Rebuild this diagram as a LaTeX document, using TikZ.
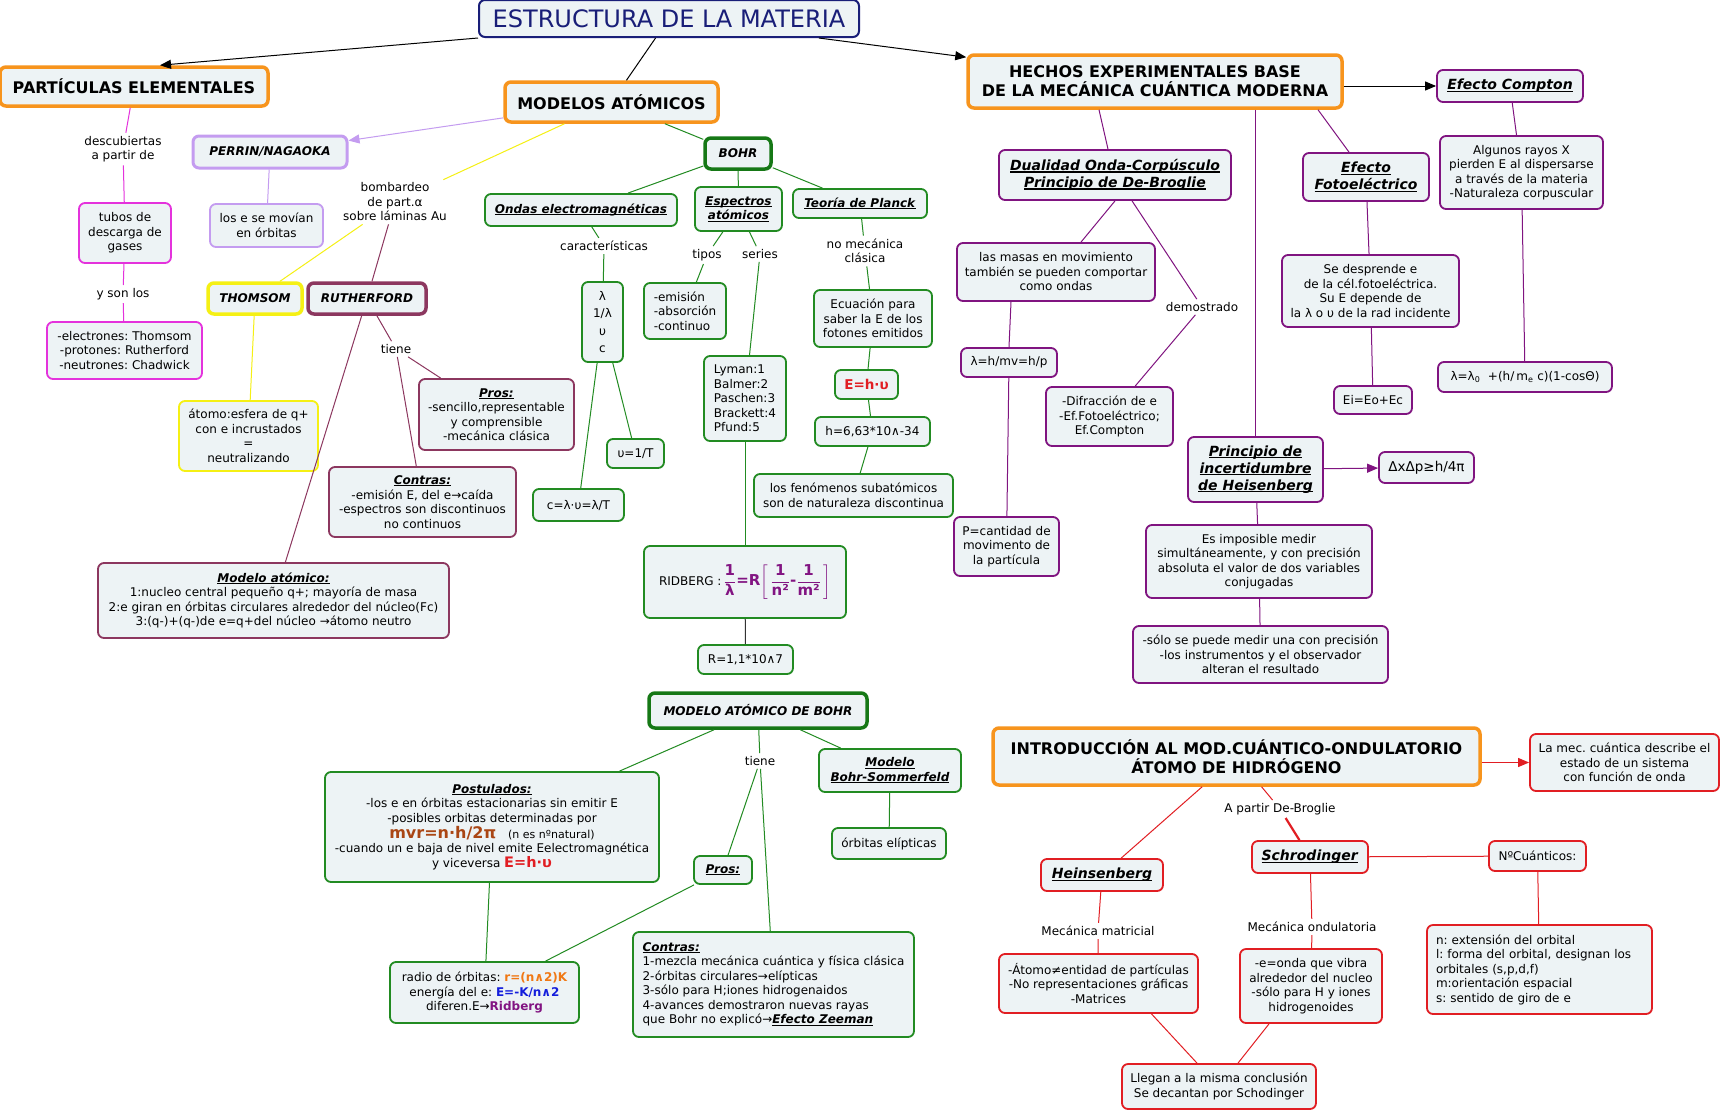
\documentclass[tikz,border=0pt]{standalone}
\usepackage{fontspec}
\usepackage{amsmath}
\setmainfont{DejaVu Sans}[ItalicFont={DejaVu Sans Oblique},BoldFont={DejaVu Sans Bold},BoldItalicFont={DejaVu Sans Bold Oblique}]
\usetikzlibrary{arrows.meta}
\definecolor{boxfill}{RGB}{237,243,245}
\definecolor{org}{RGB}{247,148,29}
\definecolor{grn}{RGB}{34,139,34}
\definecolor{dgrn}{RGB}{22,120,22}
\definecolor{pur}{RGB}{128,20,128}
\definecolor{redc}{RGB}{225,30,35}
\definecolor{mag}{RGB}{228,50,220}
\definecolor{lav}{RGB}{196,156,240}
\definecolor{yel}{RGB}{245,240,20}
\definecolor{mar}{RGB}{140,55,95}
\definecolor{navy}{RGB}{25,30,120}
\definecolor{rpur}{RGB}{130,20,130}
\definecolor{brn}{RGB}{170,70,20}
\definecolor{orgt}{RGB}{240,120,20}
\definecolor{blu}{RGB}{20,30,220}
\newcommand\fsa{\fontsize{12}{14.5}\selectfont\frenchspacing}
\newcommand\fsi{\fontsize{12}{14.5}\selectfont\bfseries\itshape}
\newcommand\fsh{\fontsize{14}{17}\selectfont}
\newcommand\fsb{\fontsize{16}{19}\selectfont\bfseries}
\newcommand\hd[1]{\setbox0\hbox{\textbf{\textit{#1}}}\rlap{\copy0}\rule[-0.14em]{\wd0}{0.08em}}
\tikzset{
  bx/.style={draw=#1, rounded corners=6pt, fill=boxfill, line width=1.8pt, align=center, inner sep=2pt, font=\fsa, text=black},
  thk/.style={line width=3.5pt},
  sz/.style 2 args={minimum width=#1pt, minimum height=#2pt},
  lb/.style={font=\fsa, align=center, inner sep=3pt, text=black},
  arr/.style={-{Triangle[length=11pt,width=9pt]}},
}
\begin{document}
\frenchspacing
\begin{tikzpicture}[x=1pt,y=-1pt]
\useasboundingbox (0,0) rectangle (1722,1112);
\fill[white] (0,0) rectangle (1722,1112);

% ---------- main headers
\node[bx=navy, line width=2pt, text=navy, font=\fontsize{24}{28}\selectfont, sz={380}{37}] (title) at (669,18.5) {ESTRUCTURA DE LA MATERIA};
\node[bx=org, thk, font=\fsb, sz={268}{39}] (partic) at (134,86.5) {PARTÍCULAS ELEMENTALES};
\node[bx=org, thk, font=\fsb, sz={213}{40}] (modelos) at (611.5,102) {MODELOS ATÓMICOS};
\node[bx=org, thk, font=\fsb, sz={374}{53}] (hechos) at (1155,81.5) {HECHOS EXPERIMENTALES BASE\\DE LA MECÁNICA CUÁNTICA MODERNA};
\node[bx=org, thk, font=\fsb, sz={487}{57}] (intro) at (1236.5,756.5) {INTRODUCCIÓN AL MOD.CUÁNTICO-ONDULATORIO\\ÁTOMO DE HIDRÓGENO};

% ---------- particulas
\node[lb] (descub) at (123,149) {descubiertas\\a partir de};
\node[bx=mag, sz={92}{60}] (tubos) at (125,233) {tubos de\\descarga de\\gases};
\node[lb] (ysonlos) at (123,294) {y son los};
\node[bx=mag, sz={155}{57}] (elec) at (124.5,350.5) {-electrones: Thomsom\\-protones: Rutherford\\-neutrones: Chadwick};

% ---------- modelos: perrin, thomsom, rutherford
\node[bx=lav, line width=3pt, font=\fsi, sz={154}{32}] (perrin) at (270,152) {PERRIN/NAGAOKA};
\node[bx=lav, sz={113}{43}] (lose) at (266.5,225.5) {los e se movían\\en órbitas};
\node[lb] (bomb) at (395,202) {bombardeo\\de part.α\\sobre láminas Au};
\node[bx=yel, thk, font=\fsi, sz={94}{31}] (thomsom) at (255,298.5) {THOMSOM};
\node[bx=mar, thk, font=\fsi, sz={118}{31}] (ruther) at (367,298.5) {RUTHERFORD};
\node[bx=yel, sz={139}{70}] (atomo) at (248.5,436) {átomo:esfera de q+\\con e incrustados\\=\\neutralizando};
\node[lb] (tiene1) at (396,349) {tiene};
\node[bx=mar, sz={155}{71}] (pros1) at (496.5,414.5) {\hd{Pros:}\\-sencillo,representable\\y comprensible\\-mecánica clásica};
\node[bx=mar, sz={187}{70}] (contras1) at (422.5,502) {\hd{Contras:}\\-emisión E, del e→caída\\-espectros son discontinuos\\no continuos};
\node[bx=mar, sz={351}{75}] (modelo1) at (273.5,600.5) {\hd{Modelo atómico:}\\1:nucleo central pequeño q+; mayoría de masa\\2:e giran en órbitas circulares alrededor del núcleo(Fc)\\3:(q-)+(q-)de e=q+del núcleo →átomo neutro};

% ---------- bohr
\node[bx=dgrn, thk, font=\fsi, sz={66}{31}] (bohr) at (738,153.5) {BOHR};
\node[bx=grn, sz={192}{32}] (ondas) at (581,210) {\hd{Ondas electromagnéticas}};
\node[bx=grn, sz={87}{44}] (espectros) at (738.5,209) {\hd{Espectros}\\\hd{atómicos}};
\node[bx=grn, sz={134}{29}] (planck) at (860,203.5) {\hd{Teoría de Planck}};
\node[lb] (caract) at (604,246) {características};
\node[bx=grn, sz={41}{80}, font=\fontsize{12}{17.5}\selectfont] (lam) at (602.5,322) {λ\\1/λ\\υ\\c};
\node[lb] (tipos) at (707,255) {tipos};
\node[lb] (series) at (760,254) {series};
\node[bx=grn, sz={82}{56}, align=left] (emision) at (685,311) {-emisión\\-absorción\\-continuo};
\node[bx=grn, sz={82}{85}, align=left] (lyman) at (745,398.5) {Lyman:1\\Balmer:2\\Paschen:3\\Brackett:4\\Pfund:5};
\node[lb] (nomec) at (865,251) {no mecánica\\clásica};
\node[bx=grn, sz={118}{57}] (ecuacion) at (873,318.5) {Ecuación para\\saber la E de los\\fotones emitidos};
\node[bx=grn, sz={63}{29}, text=redc, font=\fontsize{13.5}{15}\selectfont\bfseries] (ehv) at (866.5,384.5) {E=h·υ};
\node[bx=grn, sz={115}{29}] (hval) at (872.5,431.5) {h=6,63*10∧-34};
\node[bx=grn, sz={199}{43}] (fenom) at (853.5,495.5) {los fenómenos subatómicos\\son de naturaleza discontinua};
\node[bx=grn, sz={91}{32}] (ceq) at (578.5,505) {c=λ·υ=λ/T};
\node[bx=grn, sz={57}{29}] (ueq) at (635.5,453.5) {υ=1/T};
\node[bx=grn, sz={202}{72}] (ridberg) at (745,582) {RIDBERG :\,{\color{rpur}\fontsize{15}{18}\selectfont\bfseries$\dfrac{\text{1}}{\text{λ}}$=R$\left[\,\dfrac{\text{1}}{\text{n²}}\text{-}\dfrac{\text{1}}{\text{m²}}\,\right]$}};
\node[bx=grn, sz={95}{29}] (rval) at (745.5,659.5) {R=1,1*10∧7};

% ---------- modelo atomico de bohr
\node[bx=dgrn, thk, font=\fsi, sz={218}{35}] (mbohr) at (758,710.5) {MODELO ATÓMICO DE BOHR};
\node[bx=grn, sz={334}{110}] (postul) at (492,827) {\hd{Postulados:}\\-los e en órbitas estacionarias sin emitir E\\-posibles orbitas determinadas por\\{\color{brn}\fontsize{16}{18}\selectfont\bfseries mvr=n·h/2π}\quad{\fontsize{11}{12}\selectfont (n es nºnatural)}\\-cuando un e baja de nivel emite Eelectromagnética\\y viceversa {\color{redc}\fontsize{14.5}{16}\selectfont\bfseries E=h·υ}};
\node[lb] (tiene2) at (760,761) {tiene};
\node[bx=grn, sz={58}{28}] (pros2) at (723,870) {\hd{Pros:}};
\node[bx=grn, sz={281}{105}, align=left] (contras2) at (773.5,984.5) {\hd{Contras:}\\1-mezcla mecánica cuántica y física clásica\\2-órbitas circulares→elípticas\\3-sólo para H;iones hidrogenaidos\\4-avances demostraron nuevas rayas\\que Bohr no explicó→\hd{Efecto Zeeman}};
\node[bx=grn, sz={142}{43}] (bs) at (890,770.5) {\hd{Modelo}\\\hd{Bohr-Sommerfeld}};
\node[bx=grn, sz={114}{31}] (elip) at (889,843.5) {órbitas elípticas};
\node[bx=grn, sz={189}{61}] (radio) at (484.5,992.5) {radio de órbitas: {\color{orgt}\bfseries r=(n∧2)K}\\energía del e: {\color{blu}\bfseries E=-K/n∧2}\\diferen.E→{\color{rpur}\bfseries Ridberg}};

% ---------- hechos
\node[bx=pur, sz={146}{32}, font=\fsh] (compton) at (1510,86) {\hd{Efecto Compton}};
\node[bx=pur, sz={163}{73}] (algunos) at (1521.5,172.5) {Algunos rayos X\\pierden E al dispersarse\\a través de la materia\\-Naturaleza corpuscular};
\node[bx=pur, sz={174}{30}] (lamc) at (1525,377) {λ=λ\textsubscript{0}\ \ +(h/\,m\textsubscript{e}\ c)(1-cosΘ)};
\node[bx=pur, sz={126}{48}, font=\fsh] (foto) at (1366,177) {\hd{Efecto}\\\hd{Fotoeléctrico}};
\node[bx=pur, sz={177}{72}] (desprende) at (1370.5,291) {Se desprende e\\de la cél.fotoeléctrica.\\Su E depende de\\la λ o υ de la rad incidente};
\node[bx=pur, sz={78}{28}] (ei) at (1373,400) {Ei=Eo+Ec};
\node[bx=pur, sz={232}{50}, font=\fsh] (dual) at (1115,175) {\hd{Dualidad Onda-Corpúsculo}\\\hd{Principio de De-Broglie}};
\node[bx=pur, sz={198}{58}] (masas) at (1056,272) {las masas en movimiento\\también se pueden comportar\\como ondas};
\node[lb] (demos) at (1202,307) {demostrado};
\node[bx=pur, sz={127}{59}] (difr) at (1109.5,416.5) {-Difracción de e\\-Ef.Fotoeléctrico;\\Ef.Compton};
\node[bx=pur, sz={96}{29}] (lamh) at (1009,362.5) {λ=h/mv=h/p};
\node[bx=pur, sz={105}{59}] (pcant) at (1006.5,546.5) {P=cantidad de\\movimento de\\la partícula};
\node[bx=pur, sz={135}{65}, font=\fsh] (princ) at (1255.5,469.5) {\hd{Principio de}\\\hd{incertidumbre}\\\hd{de Heisenberg}};
\node[bx=pur, sz={95}{31}, font=\fontsize{13.5}{16}\selectfont] (dxdp) at (1426.5,467.5) {ΔxΔp≥h/4π};
\node[bx=pur, sz={226}{73}] (imposible) at (1259,561.5) {Es imposible medir\\simultáneamente, y con precisión\\absoluta el valor de dos variables\\conjugadas};
\node[bx=pur, sz={255}{57}] (solo) at (1260.5,654.5) {-sólo se puede medir una con precisión\\-los instrumentos y el observador\\alteran el resultado};

% ---------- introduccion
\node[bx=redc, sz={189}{57}] (lamec) at (1624.5,762.5) {La mec. cuántica describe el\\estado de un sistema\\con función de onda};
\node[bx=redc, sz={122}{32}, font=\fsh] (heins) at (1102,875) {\hd{Heinsenberg}};
\node[lb] (apartir) at (1280,809) {A partir De-Broglie};
\node[bx=redc, sz={116}{32}, font=\fsh] (schro) at (1310,857) {\hd{Schrodinger}};
\node[bx=redc, sz={97}{30}] (ncuant) at (1537.5,856) {NºCuánticos:};
\node[bx=redc, text width=207pt, inner xsep=9pt, minimum height=89pt, align=left] (nbox) at (1539.5,969.5) {n: extensión del orbital\\l: forma del orbital, designan los\\orbitales (s,p,d,f)\\m:orientación espacial\\s: sentido de giro de e};
\node[lb] (matric) at (1098,931) {Mecánica matricial};
\node[bx=redc, sz={199}{59}] (atneq) at (1098.5,983.5) {-Átomo≠entidad de partículas\\-No representaciones gráficas\\-Matrices};
\node[lb] (ondul) at (1312,927) {Mecánica ondulatoria};
\node[bx=redc, sz={142}{74}] (eonda) at (1311,986) {-e=onda que vibra\\alrededor del nucleo\\-sólo para H y iones\\hidrogenoides};
\node[bx=redc, sz={194}{45}] (llegan) at (1219,1086.5) {Llegan a la misma conclusión\\Se decantan por Schodinger};

% ---------- connectors
\begin{scope}[line width=1pt]
\draw[black, arr] (title.south west) -- ([xshift=26pt]partic.north);
\draw[black] (title) -- (modelos);
\draw[black, arr] (title) -- (hechos);
\draw[black, arr] (hechos.east |- compton) -- (compton.west);

\draw[mag] (partic) -- (descub);
\draw[mag] (descub) -- (tubos);
\draw[mag] (tubos) -- (ysonlos);
\draw[mag] (ysonlos) -- (elec);

\draw[lav, arr] (modelos) -- (perrin);
\draw[lav] (perrin) -- (lose);
\draw[yel] (modelos) -- (bomb);
\draw[yel] (bomb) -- (thomsom);
\draw[yel] (thomsom) -- (atomo);
\draw[mar] (bomb) -- (ruther);
\draw[mar] (ruther) -- (modelo1);
\draw[mar] (ruther) -- (tiene1);
\draw[mar] (tiene1) -- (pros1);
\draw[mar] (tiene1) -- (contras1);

\draw[grn] (modelos) -- (bohr);
\draw[grn] (bohr) -- (ondas);
\draw[grn] (bohr) -- (espectros);
\draw[grn] (bohr) -- (planck);
\draw[grn] (ondas) -- (caract);
\draw[grn] (caract) -- (lam);
\draw[grn] (lam) -- (ceq);
\draw[grn] (lam) -- (ueq);
\draw[grn] (espectros) -- (tipos);
\draw[grn] (tipos) -- (emision);
\draw[grn] (espectros) -- (series);
\draw[grn] (series) -- (lyman);
\draw[grn] (lyman) -- (ridberg);
\draw[black!80] (ridberg) -- (rval);
\draw[grn] (planck) -- (nomec);
\draw[grn] (nomec) -- (ecuacion);
\draw[grn] (ecuacion) -- (ehv);
\draw[grn] (ehv) -- (hval);
\draw[grn] (hval) -- (fenom);

\draw[grn] (mbohr) -- (postul);
\draw[grn] (mbohr) -- (tiene2);
\draw[grn] (tiene2) -- (pros2);
\draw[grn] (tiene2) -- (contras2);
\draw[grn] (mbohr) -- (bs);
\draw[grn] (bs) -- (elip);
\draw[grn] (pros2) -- (radio);
\draw[grn] (postul) -- (radio);

\draw[pur] ([xshift=-56pt]hechos.south) -- ([xshift=-7pt]dual.north);
\draw[pur] ([xshift=163pt]hechos.south) -- ([xshift=-17pt]foto.north);
\draw[pur] (princ.north |- hechos.south) -- (princ.north);
\draw[pur] (compton) -- (algunos);
\draw[pur] (algunos) -- (lamc);
\draw[pur] (foto) -- (desprende);
\draw[pur] (desprende) -- (ei);
\draw[pur] (dual.south) -- ([xshift=25pt]masas.north);
\draw[pur] (dual) -- (demos);
\draw[pur] (demos) -- (difr);
\draw[pur] ([xshift=-45pt]masas.south) -- (lamh.north);
\draw[pur] (lamh) -- (pcant);
\draw[pur, arr] (princ) -- (dxdp);
\draw[pur] (princ) -- (imposible);
\draw[pur] (imposible) -- (solo);

\draw[redc, arr] (intro.east |- lamec) -- (lamec.west);
\draw[redc] (intro) -- (heins);
\draw[redc] (intro) -- (apartir);
\draw[redc, line width=2.2pt] (apartir) -- (schro);
\draw[redc] (schro) -- (ncuant);
\draw[redc] (ncuant) -- (nbox);
\draw[redc] (heins) -- (matric);
\draw[redc] (matric) -- (atneq);
\draw[redc] (schro) -- (ondul);
\draw[redc] (ondul) -- (eonda);
\draw[redc] ([xshift=53pt]atneq.south) -- ([xshift=-22pt]llegan.north);
\draw[redc] ([xshift=-42pt]eonda.south) -- ([xshift=19pt]llegan.north);
\end{scope}
\end{tikzpicture}
\end{document}
